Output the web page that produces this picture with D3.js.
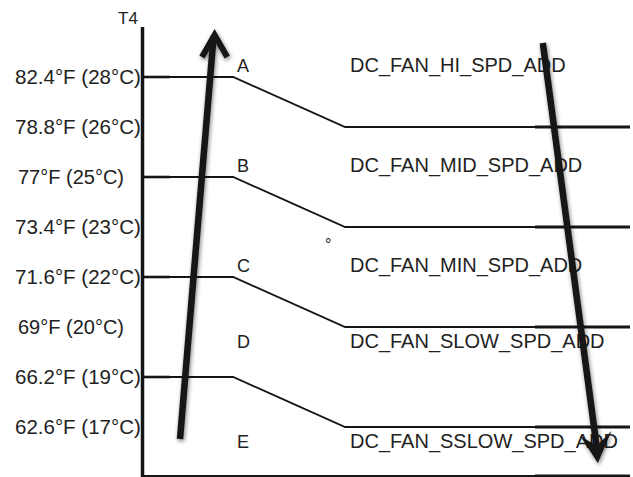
<!DOCTYPE html>
<html>
<head>
<meta charset="utf-8">
<script src="https://cdn.jsdelivr.net/npm/d3@7"></script>
<style>
  html, body { margin: 0; padding: 0; background: #fff; }
  text { font-family: "Liberation Sans", Arial, Helvetica, sans-serif; fill: #222; }
</style>
</head>
<body>
<svg id="chart" width="633" height="477"></svg>
<script>
// ---- data ----
const axisTitle = "T4";
const tempLabels = ["82.4°F (28°C)", "78.8°F (26°C)", "77°F (25°C)", "73.4°F (23°C)",
                    "71.6°F (22°C)", "69°F (20°C)", "66.2°F (19°C)", "62.6°F (17°C)"];
const tempC = [28, 26, 25, 23, 22, 20, 19, 17];
// hysteresis steps: upper threshold (°C) -> lower threshold (°C)
const stepHigh = [28, 25, 22, 19];
const stepLow  = [26, 23, 20, 17];
const zoneLetters = ["A", "B", "C", "D", "E"];
const zoneNames = ["DC_FAN_HI_SPD_ADD", "DC_FAN_MID_SPD_ADD", "DC_FAN_MIN_SPD_ADD",
                   "DC_FAN_SLOW_SPD_ADD", "DC_FAN_SSLOW_SPD_ADD"];
// zone label anchor temperature (label sits relative to this level)
const zoneAnchorC = [28, 25, 22, 20, 17];
const zoneBelow = [false, false, false, true, true];

// ---- layout ----
const svg = d3.select("#chart");
const yIdx = d3.scaleLinear().domain([0, tempC.length]).range([77, 477]);
const yT = c => yIdx(tempC.indexOf(c));
const yBottom = 476;
// horizontal fraction scale for plot area
const x = d3.scaleLinear().domain([0, 1]).range([143, 630]);
const xBend1 = x(0.185), xBend2 = x(0.415);

const ink = "#151515";

// shadow filter for arrows
const defs = svg.append("defs");
const f = defs.append("filter").attr("id", "shadow").attr("x", "-50%").attr("y", "-10%")
  .attr("width", "200%").attr("height", "120%");
f.append("feGaussianBlur").attr("in", "SourceAlpha").attr("stdDeviation", 2.2).attr("result", "b");
f.append("feOffset").attr("in", "b").attr("dx", 1).attr("dy", 2).attr("result", "o");
f.append("feComponentTransfer").attr("in", "o").attr("result", "s")
  .append("feFuncA").attr("type", "linear").attr("slope", 0.5);
const m = f.append("feMerge");
m.append("feMergeNode").attr("in", "s");
m.append("feMergeNode").attr("in", "SourceGraphic");

// axis title
svg.append("text").attr("x", 118).attr("y", 24).attr("font-size", 17).text(axisTitle);

// tick labels
svg.append("g").selectAll("text").data(tempLabels).join("text")
  .attr("x", d => d.includes(".") ? 15 : 18)
  .attr("y", (d, i) => yIdx(i))
  .attr("dy", "0.36em")
  .attr("font-size", d => d.includes(".") ? 20.5 : 20)
  .text(d => d);

// step lines
const line = d3.line();
const g = svg.append("g").attr("fill", "none").attr("stroke", ink);
stepHigh.forEach((h, i) => {
  const yh = yT(h), yl = yT(stepLow[i]);
  g.append("path").attr("stroke-width", 1.8)
    .attr("d", line([[x(0), yh], [xBend1, yh], [xBend2, yl], [x(1), yl]]));
  g.append("path").attr("stroke-width", 2.6).attr("d", line([[x(0), yh], [x(0.055), yh]]));
  g.append("path").attr("stroke-width", 2.8).attr("d", line([[x(0.805), yl], [x(1), yl]]));
});
// bottom line
g.append("path").attr("stroke-width", 1.8).attr("d", line([[x(0), yBottom], [x(1), yBottom]]));
g.append("path").attr("stroke-width", 2.8).attr("d", line([[x(0.805), yBottom], [x(1), yBottom]]));
// vertical axis
g.append("path").attr("stroke-width", 3.5).attr("d", line([[x(0) - 0.5, 27], [x(0) - 0.5, 477]]));

// zone letters and names
const zoneY = (i) => zoneBelow[i] ? yT(zoneAnchorC[i]) + 21 : yT(zoneAnchorC[i]) - 5.5;
svg.append("g").selectAll("text").data(zoneLetters).join("text")
  .attr("x", 237).attr("y", (d, i) => zoneY(i)).attr("font-size", 18).text(d => d);
svg.append("g").selectAll("text").data(zoneNames).join("text")
  .attr("x", 350).attr("y", (d, i) => zoneY(i)).attr("font-size", 20).text(d => d);

// stray degree sign
svg.append("text").attr("x", 325).attr("y", 250).attr("font-size", 16).text("°");

// arrows
const ag = svg.append("g").attr("fill", "none").attr("stroke", ink)
  .attr("stroke-linejoin", "miter").attr("filter", "url(#shadow)");
// up arrow (rising temperature)
ag.append("path").attr("stroke-width", 6.5).attr("stroke-linecap", "butt")
  .attr("d", line([[x(0.076), yIdx(7.24)], [x(0.145), 36]]));
ag.append("path").attr("stroke-width", 6)
  .attr("d", line([[x(0.121), 57], [x(0.147), 35], [x(0.173), 57]]));
// down arrow (falling temperature)
ag.append("path").attr("stroke-width", 6.5).attr("stroke-linecap", "butt")
  .attr("d", line([[x(0.821), 43], [x(0.933), 452]]));
ag.append("path").attr("stroke", "none").attr("fill", ink)
  .attr("d", line([[x(0.898), 436], [x(0.934), 463], [x(0.962), 431], [x(0.932), 446]]) + "Z");
</script>
</body>
</html>
